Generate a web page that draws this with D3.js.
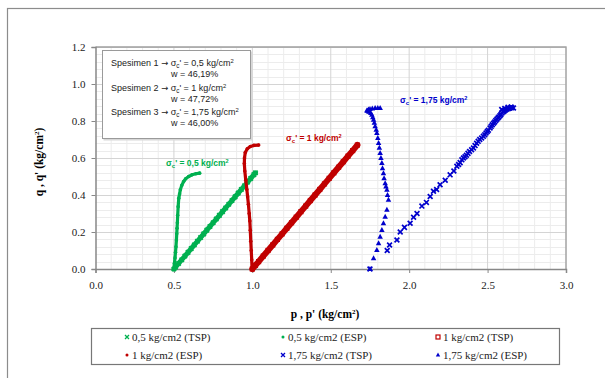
<!DOCTYPE html>
<html><head><meta charset="utf-8">
<script src="https://cdn.jsdelivr.net/npm/d3@7"></script>
<style>body{margin:0;background:#fff}svg{display:block}</style>
</head><body>
<svg id="c" width="605" height="378"></svg>
<script>
// ---- data ----
const xTicks = [0.0,0.5,1.0,1.5,2.0,2.5,3.0];
const yTicks = [0.0,0.2,0.4,0.6,0.8,1.0,1.2];

const g05TspP = [0.50,0.51,0.53,0.55,0.57,0.59,0.61,0.63,0.65,0.67,0.69,0.71,0.73,0.75,0.77,0.79,0.81,0.83,0.85,0.87,0.89,0.91,0.93,0.95,0.97,0.99,1.01,1.02];
const g05TspQ = [0.00,0.01,0.03,0.05,0.07,0.09,0.11,0.13,0.15,0.17,0.19,0.21,0.23,0.25,0.27,0.29,0.31,0.33,0.35,0.37,0.39,0.41,0.43,0.45,0.47,0.49,0.51,0.52];

const g05EspP = [0.500,0.503,0.507,0.510,0.513,0.516,0.518,0.520,0.522,0.524,0.527,0.531,0.536,0.541,0.550,0.562,0.575,0.594,0.615,0.640,0.664];
const g05EspQ = [0.000,0.030,0.060,0.090,0.120,0.157,0.190,0.220,0.250,0.290,0.337,0.383,0.405,0.428,0.452,0.473,0.488,0.500,0.509,0.515,0.518];

const r1TspP = [1.00,1.02,1.04,1.07,1.10,1.13,1.16,1.19,1.22,1.25,1.28,1.31,1.34,1.37,1.40,1.43,1.46,1.49,1.52,1.55,1.58,1.61,1.64,1.67];
const r1TspQ = [0.00,0.02,0.04,0.07,0.10,0.13,0.16,0.19,0.22,0.25,0.28,0.31,0.34,0.37,0.40,0.43,0.46,0.49,0.52,0.55,0.58,0.61,0.64,0.67];

const r1EspP = [0.998,0.996,0.993,0.990,0.987,0.984,0.980,0.975,0.970,0.965,0.958,0.952,0.949,0.950,0.955,0.968,0.987,1.010,1.040];
const r1EspQ = [0.000,0.050,0.100,0.150,0.210,0.260,0.300,0.350,0.390,0.430,0.480,0.530,0.570,0.600,0.630,0.650,0.662,0.668,0.670];

const b175TspP = [1.750,1.860,1.875,1.922,1.943,1.970,2.006,2.028,2.050,2.081,2.110,2.134,2.155,2.175,2.197,2.230,2.261,2.285,2.304,2.315,2.325,2.336,2.346,2.356,2.365,2.375,2.385,2.398,2.410,2.420,2.430,2.440,2.450,2.462,2.473,2.482,2.490,2.498,2.505,2.516,2.523,2.530,2.538,2.545,2.552,2.559,2.566,2.572,2.579,2.585,2.592,2.600,2.606,2.612,2.618,2.625,2.634,2.643,2.655,2.665,2.650,2.630,2.610,2.590];
const b175TspQ = [0.000,0.100,0.130,0.157,0.200,0.225,0.247,0.280,0.300,0.340,0.360,0.392,0.420,0.430,0.455,0.480,0.509,0.530,0.555,0.565,0.575,0.590,0.600,0.607,0.615,0.625,0.635,0.645,0.654,0.667,0.680,0.690,0.700,0.708,0.717,0.726,0.735,0.743,0.750,0.762,0.771,0.780,0.788,0.795,0.803,0.810,0.816,0.822,0.829,0.835,0.843,0.850,0.854,0.858,0.862,0.865,0.868,0.870,0.872,0.870,0.876,0.874,0.868,0.862];

const b175EspP = [1.750,1.773,1.794,1.805,1.815,1.826,1.836,1.847,1.858,1.868,1.862,1.858,1.852,1.847,1.840,1.836,1.830,1.826,1.820,1.815,1.810,1.805,1.800,1.794,1.790,1.783,1.778,1.773,1.768,1.762,1.755,1.748,1.741,1.735,1.730,1.740,1.750,1.765,1.783,1.800,1.815];
const b175EspQ = [0.000,0.058,0.103,0.139,0.175,0.211,0.247,0.283,0.320,0.374,0.400,0.428,0.446,0.464,0.490,0.518,0.545,0.573,0.600,0.627,0.655,0.681,0.708,0.735,0.753,0.771,0.790,0.807,0.820,0.834,0.843,0.850,0.852,0.855,0.857,0.862,0.865,0.868,0.870,0.870,0.870];

const seriesNames = ["0,5 kg/cm2 (TSP)","0,5 kg/cm2 (ESP)","1 kg/cm2 (TSP)","1 kg/cm2 (ESP)","1,75 kg/cm2 (TSP)","1,75 kg/cm2 (ESP)"];
const infoLines = [["Spesimen 1 ","0,5"],["w = 46,19%"],["Spesimen 2 ","1"],["w = 47,72%"],["Spesimen 3 ","1,75"],["w = 46,00%"]];
const labelValues = ["0,5","1","1,75"];

// ---- build ----
const GREEN="#00B050", RED="#C00000", BLUE="#0000CC";
const zip=(P,Q)=>P.map((p,i)=>[p,Q[i]]);
const series = [
  {name:seriesNames[0], data:zip(g05TspP,g05TspQ), color:GREEN, marker:"x", band:5, ms:2.2},
  {name:seriesNames[1], data:zip(g05EspP,g05EspQ), color:GREEN, marker:"circle", band:3.2, ms:2},
  {name:seriesNames[2], data:zip(r1TspP,r1TspQ), color:RED, marker:"square", band:6, ms:2},
  {name:seriesNames[3], data:zip(r1EspP,r1EspQ), color:RED, marker:"circle", band:3.2, ms:2},
  {name:seriesNames[4], data:zip(b175TspP,b175TspQ), color:BLUE, marker:"x", band:0, ms:2.4},
  {name:seriesNames[5], data:zip(b175EspP,b175EspQ), color:BLUE, marker:"triangle", band:0, ms:2.5}
];

const svg = d3.select("#c");
const x = d3.scaleLinear().domain([0,3]).range([95.5,566]);
const y = d3.scaleLinear().domain([0,1.2]).range([269,47]);

// outer frame
svg.append("rect").attr("x",7.5).attr("y",8.5).attr("width",640).attr("height",400)
  .attr("fill","#fff").attr("stroke","#8c8c8c").attr("stroke-width",1.2);

// gridlines
const g = svg.append("g");
const minorX = d3.range(1,30).map(i=>i/10).filter(v=>Math.abs(v*2-Math.round(v*2))>1e-6);
const minorY = d3.range(1,30).map(i=>i*0.04).filter(v=>Math.abs(v*5-Math.round(v*5))>1e-6);
g.selectAll(".mx").data(minorX).join("line").attr("x1",d=>x(d)).attr("x2",d=>x(d)).attr("y1",y(0)).attr("y2",y(1.2)).attr("stroke","#ececec");
g.selectAll(".my").data(minorY).join("line").attr("x1",x(0)).attr("x2",x(3)).attr("y1",d=>Math.round(y(d))+0.5).attr("y2",d=>Math.round(y(d))+0.5).attr("stroke","#ececec");
g.selectAll(".Mx").data(xTicks.slice(1)).join("line").attr("x1",d=>x(d)).attr("x2",d=>x(d)).attr("y1",y(0)).attr("y2",y(1.2)).attr("stroke","#d4d4d4");
g.selectAll(".My").data(yTicks.slice(1)).join("line").attr("x1",x(0)).attr("x2",x(3)).attr("y1",d=>Math.round(y(d))+0.5).attr("y2",d=>Math.round(y(d))+0.5).attr("stroke","#d4d4d4");
svg.append("path").attr("d",`M${x(0)},${y(1.2)}H${x(3)}V${y(0)}`).attr("fill","none").attr("stroke","#a0a0a0").attr("stroke-width",1.3);

// axes
const xa = svg.append("g").attr("transform",`translate(0,${y(0)})`)
  .call(d3.axisBottom(x).tickValues(xTicks).tickFormat(d3.format(".1f")).tickSize(4));
const ya = svg.append("g").attr("transform",`translate(${x(0)},0)`)
  .call(d3.axisLeft(y).tickValues(yTicks).tickFormat(d3.format(".1f")).tickSize(4));
[xa,ya].forEach(a=>{
  a.select(".domain").attr("stroke","#888").attr("stroke-width",1.5);
  a.selectAll(".tick line").attr("stroke","#888");
  a.selectAll("text").attr("font-family","'Liberation Serif',serif").attr("font-size",11).attr("fill","#222");
});
xa.selectAll("text").attr("dy","1.2em");
ya.selectAll("text").attr("x",-10).attr("dy","0.35em");

// axis titles
svg.append("text").attr("x",325).attr("y",318).attr("text-anchor","middle")
  .attr("font-family","'Liberation Serif',serif").attr("font-weight","bold").attr("font-size",11.5)
  .call(t=>{t.append("tspan").text("p , p'  (kg/cm"); t.append("tspan").attr("font-size",7).attr("dy",-4).text("2"); t.append("tspan").attr("dy",4).text(")");});
svg.append("text").attr("transform","translate(43,162) rotate(-90)").attr("text-anchor","middle")
  .attr("font-family","'Liberation Serif',serif").attr("font-weight","bold").attr("font-size",11.5)
  .call(t=>{t.append("tspan").text("q , q'  (kg/cm"); t.append("tspan").attr("font-size",7).attr("dy",-4).text("2"); t.append("tspan").attr("dy",4).text(")");});

function drawMarker(sel, type, color, s, plotMode){
  if(type==="x"){
    sel.append("path").attr("d",`M${-s},${-s}L${s},${s}M${-s},${s}L${s},${-s}`).attr("stroke",color).attr("stroke-width",plotMode?1.7:1.3).attr("fill","none");
  } else if(type==="circle"){
    sel.append("circle").attr("r",s*0.9).attr("fill",color);
  } else if(type==="square"){
    sel.append("rect").attr("x",-s).attr("y",-s).attr("width",2*s).attr("height",2*s).attr("fill",plotMode?"none":"#fff").attr("stroke",color).attr("stroke-width",1.2);
  } else if(type==="triangle"){
    sel.append("path").attr("d",`M0,${-s*1.2}L${s*1.1},${s*0.8}L${-s*1.1},${s*0.8}Z`).attr("fill",color);
  }
}

const plot = svg.append("g");
const line = d3.line().x(d=>x(d[0])).y(d=>y(d[1]));
series.forEach(s=>{
  if(s.band>0){
    plot.append("path").datum(s.data).attr("d",line).attr("fill","none").attr("stroke",s.color)
      .attr("stroke-width",s.band).attr("stroke-linejoin","round").attr("stroke-linecap","round");
  }
  plot.selectAll(null).data(s.data).join("g").attr("transform",d=>`translate(${x(d[0])},${y(d[1])})`)
    .each(function(){ drawMarker(d3.select(this), s.marker, s.color, s.ms, true); });
});

function sigma(t, val){
  t.append("tspan").text("\u03c3");
  t.append("tspan").attr("font-size","0.7em").attr("dy",2).text("c");
  t.append("tspan").attr("dy",-2).text("' = "+val+" kg/cm");
  t.append("tspan").attr("font-size","0.65em").attr("dy",-3).text("2");
}
const labPos = [[0.555,GREEN],[0.69,RED],[0.9,BLUE]];
const labX=[166,286,400];
labPos.forEach((lp,i)=>{
  svg.append("text").attr("x",labX[i]).attr("y",y(lp[0])).attr("font-family","'Liberation Sans',sans-serif")
    .attr("font-weight","bold").attr("font-size",8.5).attr("fill",lp[1]).call(t=>sigma(t,labelValues[i]));
});

// info text box
svg.append("rect").attr("x",103.5).attr("y",51.5).attr("width",149).attr("height",89).attr("fill","#d8d8d8");
svg.append("rect").attr("x",102.5).attr("y",50.5).attr("width",148).attr("height",88).attr("fill","#fff").attr("stroke","#9a9a9a");
const ib = svg.append("g").attr("font-family","'Liberation Sans',sans-serif").attr("font-size",9).attr("fill","#222");
const infoY=[66,77,91,102,115,126];
infoLines.forEach((l,i)=>{
  if(l.length===2){
    ib.append("text").attr("x",111).attr("y",infoY[i]).call(t=>{
      t.append("tspan").text(l[0]);
      t.append("tspan").attr("font-family","'DejaVu Sans',sans-serif").attr("font-size",8.5).text("\u2192");
      t.append("tspan").text("\u00a0");
      sigma(t,l[1]);
    });
  } else {
    ib.append("text").attr("x",171).attr("y",infoY[i]).text(l[0]);
  }
});

// legend
svg.append("rect").attr("x",91.5).attr("y",328.5).attr("width",468).attr("height",36).attr("fill","#fff").attr("stroke","#777").attr("stroke-width",1.2);
const legX=[127,283,438], legY=[337,355];
series.forEach((s,i)=>{
  const cx=legX[i%3], cy=legY[Math.floor(i/3)];
  const gg=svg.append("g").attr("transform",`translate(${cx},${cy})`);
  drawMarker(gg, s.marker, s.color, s.marker==="circle"?1.7:2, false);
  svg.append("text").attr("x",cx+5).attr("y",cy+4).attr("font-family","'Liberation Serif',serif").attr("font-size",11).attr("fill","#222").text(s.name);
});
</script>
</body></html>
